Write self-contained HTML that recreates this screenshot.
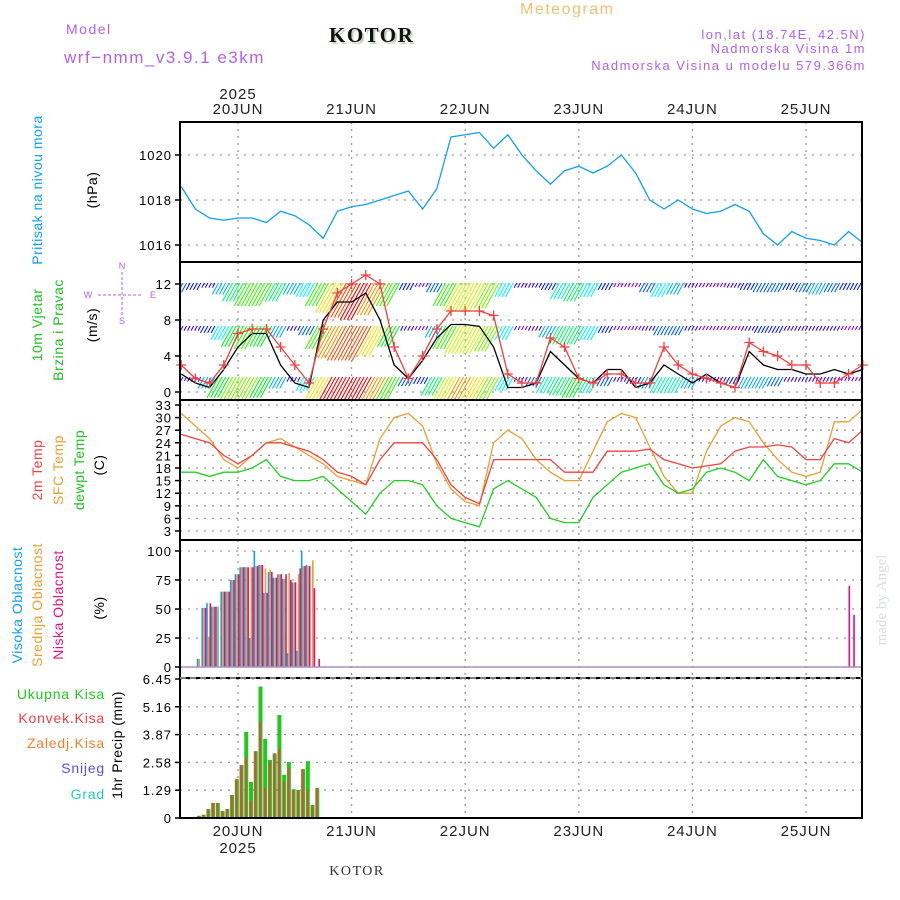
<!DOCTYPE html>
<html><head><meta charset="utf-8"><style>
body{margin:0;background:#fff;width:900px;height:900px;overflow:hidden}
svg{display:block;font-family:"Liberation Sans",sans-serif}
.t{letter-spacing:1.5px}
</style></head><body>
<svg id="c" width="900" height="900" viewBox="0 0 900 900">
<defs><clipPath id="wclip"><rect x="180" y="262" width="682" height="138"/></clipPath></defs>
<text x="66" y="34" fill="#b060f0" font-size="14" class="t">Model</text>
<text x="64" y="63" fill="#b060f0" font-size="17" class="t">wrf−nmm_v3.9.1 e3km</text>
<text x="331" y="44" fill="#c0d8c0" font-size="21" font-weight="bold" font-family="Liberation Serif" class="t">KOTOR</text>
<text x="329" y="42" fill="#111" font-size="21" font-weight="bold" font-family="Liberation Serif" class="t">KOTOR</text>
<text x="520" y="14" fill="#f0c070" font-size="16" class="t">Meteogram</text>
<text x="866" y="39" fill="#b060f0" font-size="13" text-anchor="end" class="t">lon,lat (18.74E, 42.5N)</text>
<text x="866" y="53" fill="#b060f0" font-size="13" text-anchor="end" class="t">Nadmorska Visina 1m</text>
<text x="866" y="70" fill="#b060f0" font-size="13" text-anchor="end" class="t">Nadmorska Visina u modelu 579.366m</text>
<text x="357" y="875" fill="#333" font-size="14" font-family="Liberation Serif" text-anchor="middle" class="t">KOTOR</text>
<text transform="translate(886,600) rotate(-90)" fill="#d8e0d8" font-size="15" font-family="Liberation Serif" text-anchor="middle">made by Angel</text>
<g id="plots"></g>
</svg>
<script>
// ---- data (time axis: hours from 20JUN 00Z) ----
const days = ["20JUN","21JUN","22JUN","23JUN","24JUN","25JUN"];
const hours3 = [-12,-9,-6,-3,0,3,6,9,12,15,18,21,24,27,30,33,36,39,42,45,48,51,54,57,60,63,66,69,72,75,78,81,84,87,90,93,96,99,102,105,108,111,114,117,120,123,126,129,132];
const pressure = [1018.6,1017.6,1017.2,1017.1,1017.2,1017.2,1017.0,1017.5,1017.3,1016.9,1016.3,1017.5,1017.7,1017.8,1018.0,1018.2,1018.4,1017.6,1018.5,1020.8,1020.9,1021.0,1020.3,1020.9,1020.0,1019.3,1018.7,1019.3,1019.5,1019.2,1019.5,1020.0,1019.2,1018.0,1017.6,1018.0,1017.6,1017.4,1017.5,1017.8,1017.5,1016.5,1016.0,1016.6,1016.3,1016.2,1016.0,1016.6,1016.1];
const temp2m = [26,25,24,21,19,21,24,24,23,22,20,17,16,14,20,24,24,24,20,14,11,9.5,20,20,20,20,20,17,17,17,22,22,22,22.5,20,19,18,18.5,19,22,23,23,23.5,23,20,20,25,24,27];
const tempSfc = [31,28,25,20,18,21,24,25,23,21,19,16,15,14,25,30,31,28,19,13,10,9,24,27,25,20,17,15,15,22,29,31,30,23,16,12,12,22,28,30,29,24,20,17,16,17,29,29,32];
const dewpt = [17,17,16,17,17,18,20,16,15,15,16,13,10,7,12,15,15,14,9,6,5,4,13,15,13,11,6,5,5,11,14,17,18,19,14,12,13,17,18,17,15,20,16,15,14,15,19,19,17];
const windSpeed = [2,1,0.5,2.5,5,6.5,6.5,3,1,0.5,8,10,10,11,8,3,1.5,3.5,6,7.5,7.5,7.3,5,0.5,0.5,1,4.5,3,1.5,1,2.5,2.5,0.5,1,3,2,1,2,1,0.5,4.5,3,2.5,2.5,2,2,2.5,2,2.5];
const windGust = [3,1.5,1,3,6.5,7,7,5,3,1,7,11,12,13,12,5,1.5,4,7,9,9,9,8.5,2,1,1,6,5,1.5,1,2,2,1,1,5,3,2,1.5,1,0.5,5.5,4.5,4,3,3,1,1,2,3];
const windTop = [8,7,6,9,12,14,14,12,9,10,14,17,19,20,18,14,7,5,8,14,16,16,15,10,6,6,7,11,12,10,7,5,5,8,10,9,6,5,5,6,7,8,8,7,8,9,8,7,7];
const windMid = [6,6,7,10,13,14,13,9,6,8,14,18,19,19,17,13,6,5,9,14,16,16,15,10,5,6,9,12,12,10,7,5,5,6,8,8,6,5,5,5,6,7,7,6,6,6,6,5,5];
const windLow = [5,6,9,13,15,15,13,9,6,10,17,20,21,20,18,14,8,7,12,16,18,17,15,10,6,8,11,12,13,11,8,6,7,9,11,11,9,6,6,7,9,9,8,6,6,6,6,5,5];
// hourly bars, hour index 0 = 19JUN 12Z
const barHours = [4,5,6,7,8,9,10,11,12,13,14,15,16,17,18,19,20,21,22,23,24,25,26,27,28,29,141,142];
const cloudHigh = [7,51,55,52,52,65,65,75,80,86,86,25,100,88,64,82,77,80,76,12,73,14,100,88,0,0,0,0];
const cloudMid = [7,51,26,52,52,65,65,75,80,86,86,86,87,88,85,84,77,80,76,81,73,80,87,87,92,0,0,0];
const cloudLow = [0,51,55,52,0,65,65,75,80,86,86,86,87,88,64,82,77,80,80,75,73,85,87,87,68,7,70,45];
const precipTotal = [0.1,0.15,0.42,0.7,0.7,0.33,0.42,1.07,1.8,2.46,4.0,1.67,3.1,6.1,3.67,2.7,3.0,4.78,2.0,2.6,1.34,1.3,2.27,2.64,0.6,1.39,0,0];
const precipConv = [0.1,0.15,0.42,0.7,0.7,0.33,0.42,1.07,1.8,2.46,2.8,0.8,3.1,4.45,1.4,2.6,3.0,3.2,1.7,2.3,1.3,1.3,2.27,1.3,0.6,1.39,0,0];
const pTicks=[1016,1018,1020], wTicks=[0,4,8,12], tTicks=[3,6,9,12,15,18,21,24,27,30,33], cTicks=[0,25,50,75,100], rTicks=["0","1.29","2.58","3.87","5.16","6.45"];

const NS="http://www.w3.org/2000/svg", G=document.getElementById('plots');
function el(tag,a,txt,parent){const e=document.createElementNS(NS,tag);for(const k in a)e.setAttribute(k,a[k]);if(txt!==undefined)e.textContent=txt;(parent||G).appendChild(e);return e;}
const X0=180,X1=862,PXH=113.6/24;
const xh=h=>238+h*PXH;
const xi=i=>X0+i*PXH;
const yP=p=>245-(p-1016)*22.5, yW=v=>392-v*9, yT=t=>531-(t-3)*4.2, yC=c=>667-c*1.16, yR=v=>818-v*21.55;
const panels=[[122,262],[262,400],[400,540],[540,678],[678,818]];

panels.forEach(([a,b])=>{days.forEach((d,i)=>{const g=el('line',{x1:xh(i*24),x2:xh(i*24),y1:a,y2:b,stroke:'#999','stroke-dasharray':'2,5','stroke-width':1.3});

});});
function hgrid(ticks,f){ticks.forEach(t=>{const v=parseFloat(t),y=f(v);
const g=el('line',{x1:X0,x2:X1,y1:y,y2:y,stroke:'#999','stroke-dasharray':'2,6','stroke-width':1.3});


const tk=el('line',{x1:X0-5,x2:X0,y1:y,y2:y,stroke:'#000','stroke-width':1.5});


const tx=el('text',{x:172,y:y+5,'font-size':13,'text-anchor':'end',fill:'#000','letter-spacing':'1'},String(t));

});}
hgrid(pTicks,yP);hgrid(wTicks,yW);hgrid(tTicks,yT);hgrid(cTicks,yC);hgrid(rTicks,yR);

const pl=el('polyline',{points:hours3.map((h,i)=>xh(h)+','+yP(pressure[i])).join(' '),fill:'none',stroke:'#10a0f0','stroke-width':1.3});



const wg=el('g',{'clip-path':'url(#wclip)'});


function band(arr,base,name){arr.forEach((s,i)=>{const L=Math.max(4,(s-4)*2.3),x=xh(hours3[i]),hue=Math.max(0,270-(s-5)*18);
for(let k=0;k<4;k++){const xx=x+k*3.55-5.3;
const ln=el('line',{x1:xx,y1:base,x2:xx-L*0.55,y2:base+L,stroke:`hsl(${hue},95%,50%)`,'stroke-width':1.1},undefined,wg);

}});}
band(windTop,283,'wind-barb-upper');band(windMid,326,'wind-barb-mid');band(windLow,377,'wind-barb-low');
const wl=el('polyline',{points:hours3.map((h,i)=>xh(h)+','+yW(windSpeed[i])).join(' '),fill:'none',stroke:'#000','stroke-width':1.3});


const gl=el('polyline',{points:hours3.map((h,i)=>xh(h)+','+yW(windGust[i])).join(' '),fill:'none',stroke:'#f04040','stroke-width':1.3});


hours3.forEach((h,i)=>{const x=xh(h),y=yW(windGust[i]);
const m=el('path',{d:`M${x-5},${y}h10M${x},${y-5}v10`,stroke:'#f04040','stroke-width':1.3});

});

[[tempSfc,'#e8a030','sfc-temp-line'],[temp2m,'#f04040','temp-2m-line'],[dewpt,'#20d020','dewpoint-line']].forEach(([a,c,n])=>{
const l=el('polyline',{points:hours3.map((h,i)=>xh(h)+','+yT(a[i])).join(' '),fill:'none',stroke:c,'stroke-width':1.3});

});

barHours.forEach((hi,k)=>{const x=xi(hi);
[[cloudHigh,'#10a0f0',-2.2,'cloud-high-bar'],[cloudMid,'#e8a030',-0.5,'cloud-mid-bar'],[cloudLow,'#e01080',1.1,'cloud-low-bar']].forEach(([a,c,o,n])=>{
if(a[k]>0){const b=el('rect',{x:x+o,y:yC(a[k]),width:1.6,height:667-yC(a[k]),fill:c});

}});
if(precipTotal[k]>0){const g=el('rect',{x:x-2,y:yR(precipTotal[k]),width:4,height:818-yR(precipTotal[k]),fill:'#20c820'});


const r=el('rect',{x:x-1.3,y:yR(precipConv[k]),width:1.8,height:818-yR(precipConv[k]),fill:'#f04040'});

}});
const cb=el('line',{x1:X0,x2:X1,y1:667,y2:667,stroke:'#b090c0','stroke-width':1.5});



panels.forEach(([a,b])=>{const r=el('rect',{x:X0,y:a,width:X1-X0,height:b-a,fill:'none',stroke:'#000','stroke-width':2});

});
const dl=el('line',{x1:X0,x2:X1,y1:678,y2:678,stroke:'#fff','stroke-width':1,'stroke-dasharray':'6,4'});



days.forEach((d,i)=>{const x=xh(i*24);
const a=el('text',{x:x,y:114,'font-size':15,'text-anchor':'middle',fill:'#222','letter-spacing':'1'},d);


const b=el('text',{x:x,y:836,'font-size':15,'text-anchor':'middle',fill:'#222','letter-spacing':'1'},d);

});
const y1=el('text',{x:xh(0),y:99,'font-size':15,'text-anchor':'middle',fill:'#222','letter-spacing':'1'},'2025');


const y2=el('text',{x:xh(0),y:853,'font-size':15,'text-anchor':'middle',fill:'#222','letter-spacing':'1'},'2025');



function rt(x,y,t,c,n){const e=el('text',{transform:`translate(${x},${y}) rotate(-90)`,'font-size':14,'text-anchor':'middle',fill:c,'letter-spacing':'0.5'},t);

}
rt(42,190,'Pritisak na nivou mora','#10a0f0','pressure-title');rt(97,190,'(hPa)','#000','pressure-unit');
rt(42,325,'10m Vjetar','#20c020','wind-title');rt(63,330,'Brzina i Pravac','#20c020','wind-title-2');rt(97,325,'(m/s)','#000','wind-unit');
rt(42,470,'2m Temp','#f04040','temp-2m-title');rt(63,470,'SFC Temp','#e8a030','sfc-temp-title');rt(84,470,'dewpt Temp','#20c020','dewpt-title');rt(104,465,'(C)','#000','temp-unit');
rt(22,605,'Visoka Oblacnost','#10a0f0','cloud-high-title');rt(42,605,'Srednja Oblacnost','#e8a030','cloud-mid-title');rt(63,605,'Niska Oblacnost','#e01080','cloud-low-title');rt(104,608,'(%)','#000','cloud-unit');
rt(122,745,'1hr Precip (mm)','#000','precip-title');
[['Ukupna Kisa','#20c820',699],['Konvek.Kisa','#f04040',723],['Zaledj.Kisa','#f08030',748],['Snijeg','#5050f0',773],['Grad','#20c8c8',799]].forEach(([t,c,y])=>{
const e=el('text',{x:105,y:y,'font-size':14,fill:c,'letter-spacing':'0.8','text-anchor':'end'},t);

});
const cp=el('g',{fill:'#b060f0','font-size':9});


[['W',88,298],['E',153,298],['N',122,269],['S',122,324]].forEach(([t,x,y])=>{const e=document.createElementNS(NS,'text');e.setAttribute('x',x);e.setAttribute('y',y);e.setAttribute('text-anchor','middle');e.textContent=t;cp.appendChild(e);});
const cl=el('path',{d:'M98,295h44M122,272v44',stroke:'#b060f0','stroke-width':1,'stroke-dasharray':'3,2'});


</script>
</body></html>
